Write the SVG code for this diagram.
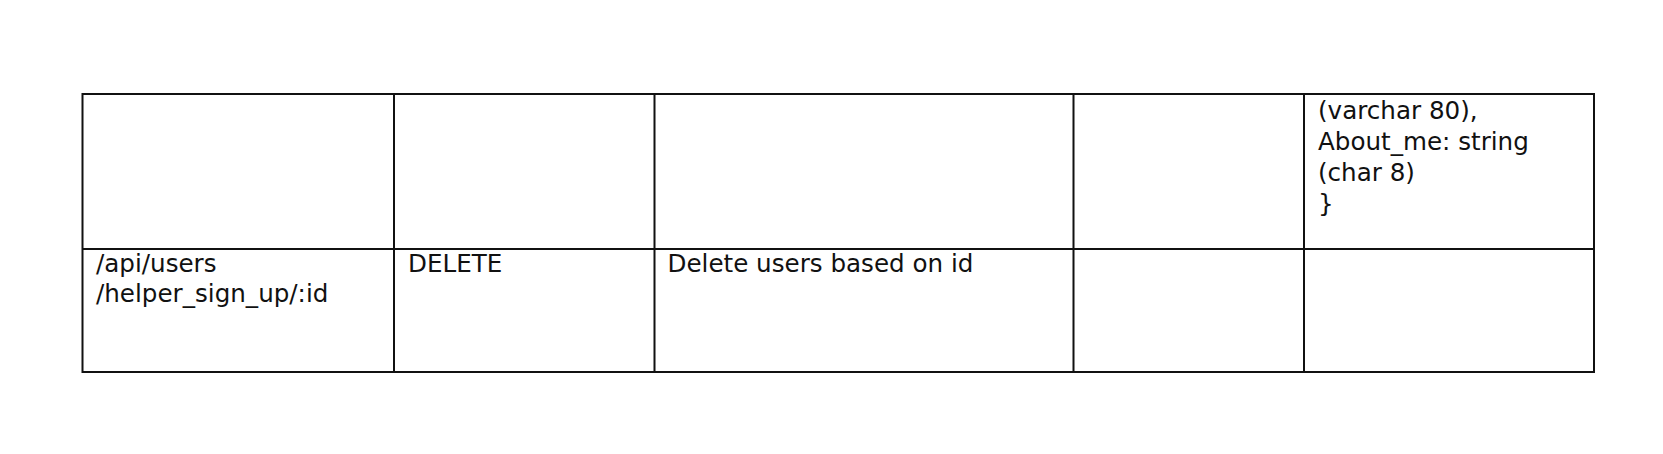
<svg xmlns="http://www.w3.org/2000/svg" width="1663" height="454" viewBox="0 0 1663 454">
<style>
.grid{stroke:#111;stroke-width:2;fill:none}
.t{font-family:"DejaVu Sans",sans-serif;font-size:24.6px;fill:#111}
</style>
<rect width="1663" height="454" fill="#fff"/>
<g id="grid">
<rect class="grid" x="82.5" y="94" width="1511.5" height="278"/>
<line class="grid" x1="82.5" y1="249" x2="1594" y2="249"/>
<line class="grid" x1="394" y1="94" x2="394" y2="372"/>
<line class="grid" x1="654.5" y1="94" x2="654.5" y2="372"/>
<line class="grid" x1="1073.5" y1="94" x2="1073.5" y2="372"/>
<line class="grid" x1="1304" y1="94" x2="1304" y2="372"/>
</g>
<g id="cell-schema">
<text class="t" x="1318" y="119">(varchar 80),</text>
<text class="t" x="1318" y="150">About_me: string</text>
<text class="t" x="1318" y="181">(char 8)</text>
<text class="t" x="1318" y="212">}</text>
</g>
<g id="cell-endpoint">
<text class="t" x="96" y="272">/api/users</text>
<text class="t" x="96" y="302">/helper_sign_up/:id</text>
</g>
<g id="cell-method">
<text class="t" x="408" y="272">DELETE</text>
</g>
<g id="cell-description">
<text class="t" x="667.5" y="272">Delete users based on id</text>
</g>
</svg>
